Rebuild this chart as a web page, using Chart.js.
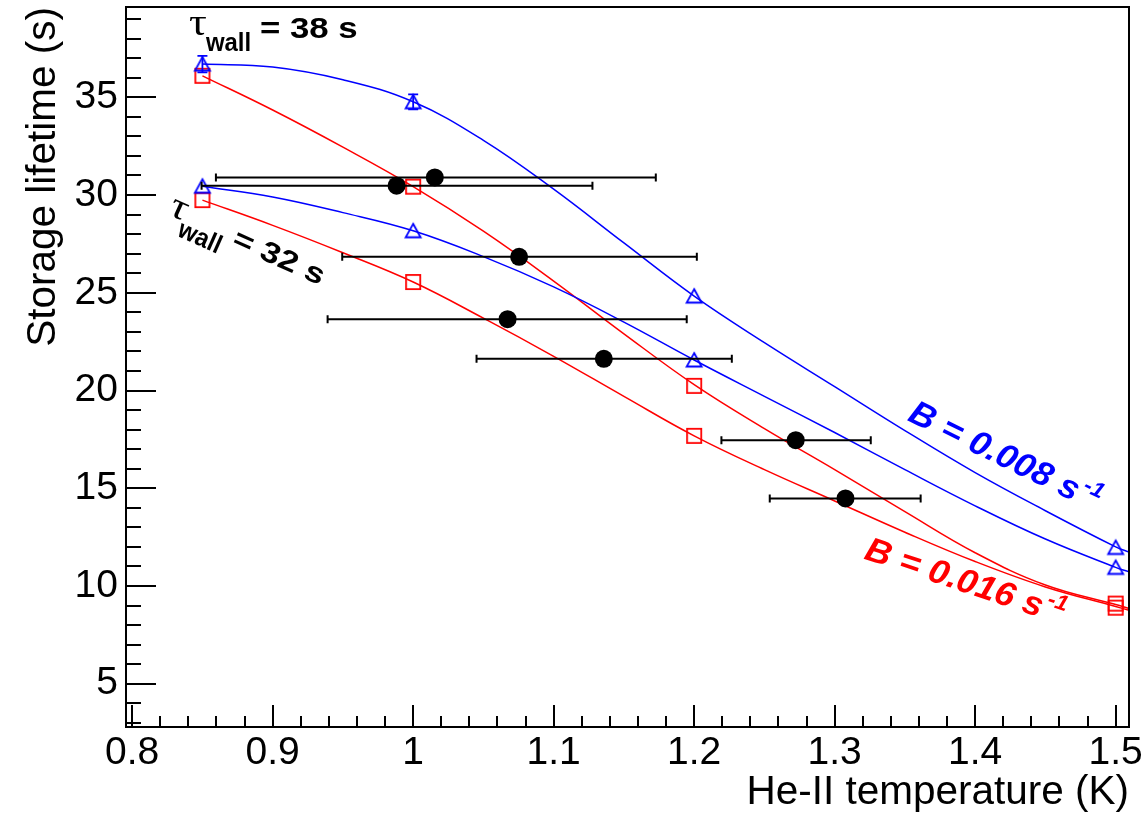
<!DOCTYPE html>
<html>
<head>
<meta charset="utf-8">
<script src="https://cdn.jsdelivr.net/npm/chart.js@4.4.0/dist/chart.umd.min.js"></script>
<style>
html,body{margin:0;padding:0;background:#ffffff;}
#wrap{width:1144px;height:819px;position:relative;}
</style>
</head>
<body>
<div id="wrap"><canvas id="c" width="1144" height="819"></canvas></div>
<script>
// ---------------- data ----------------
// Model curves: storage lifetime vs He-II temperature
const curveTemperature = [0.85, 0.9, 0.95, 1.0, 1.05, 1.1, 1.15, 1.2, 1.25, 1.3, 1.35, 1.4, 1.45, 1.5, 1.5095];
const curveB008Wall38 = [36.7, 36.55, 35.9, 34.77, 32.8, 30.3, 27.55, 24.83, 22.45, 20.2, 17.95, 15.8, 13.85, 12.0, 11.73];
const curveB008Wall32 = [30.45, 29.9, 29.1, 28.17, 26.85, 25.3, 23.5, 21.56, 19.7, 17.85, 15.95, 14.1, 12.4, 10.95, 10.72];
const curveB016Wall38 = [36.1, 34.35, 32.45, 30.43, 28.15, 25.6, 22.9, 20.3, 18.05, 15.95, 13.8, 11.7, 10.05, 9.05, 8.85];
const curveB016Wall32 = [29.74, 28.45, 27.05, 25.55, 23.7, 21.75, 19.7, 17.68, 15.95, 14.35, 12.75, 11.25, 9.95, 8.95, 8.76];

// Simulated points
const simTemperature = [0.85, 1.0, 1.2, 1.5];
const simB008Wall38 = [36.7, 34.77, 24.83, 11.97];
const simB008Wall38Err = [0.42, 0.38, 0, 0];
const simB008Wall32 = [30.45, 28.17, 21.56, 10.95];
const simB016Wall38 = [36.1, 30.43, 20.24, 9.1];
const simB016Wall32 = [29.74, 25.55, 17.68, 8.89];

// Measurements (with temperature ranges)
const measTemperature = [0.9882, 1.0154, 1.0754, 1.0672, 1.1357, 1.2723, 1.3077];
const measLifetime = [30.48, 30.9, 26.84, 23.65, 21.62, 17.46, 14.48];
const measTempLow = [0.8494, 0.8596, 0.9495, 0.9391, 1.0451, 1.2194, 1.2538];
const measTempHigh = [1.1276, 1.1727, 1.2019, 1.1947, 1.2268, 1.3257, 1.3612];

// Axes
const xTickValues = [0.8, 0.9, 1.0, 1.1, 1.2, 1.3, 1.4, 1.5];
const xTickLabels = ['0.8', '0.9', '1', '1.1', '1.2', '1.3', '1.4', '1.5'];
const yTickValues = [5, 10, 15, 20, 25, 30, 35];
const yTickLabels = ['5', '10', '15', '20', '25', '30', '35'];
const xRange = [0.7956, 1.5095];
const yRange = [2.785, 39.62];
const xTitle = 'He-II temperature (K)';
const yTitle = 'Storage lifetime (s)';

// ---------------- helpers ----------------
const BLUE = '#0000ff', RED = '#ff0000', BLACK = '#000000';
function pts(xs, ys) { return xs.map((x, i) => ({x: x, y: ys[i]})); }
function makeTriangle(color) {
  const c = document.createElement('canvas'); c.width = 20; c.height = 20;
  const g = c.getContext('2d'); g.strokeStyle = color; g.lineWidth = 1.8;
  g.beginPath(); g.moveTo(10, 3); g.lineTo(17.5, 16.5); g.lineTo(2.5, 16.5); g.closePath(); g.stroke();
  return c;
}
function makeSquare(color) {
  const c = document.createElement('canvas'); c.width = 20; c.height = 20;
  const g = c.getContext('2d'); g.strokeStyle = color; g.lineWidth = 1.8;
  g.strokeRect(2.9, 2.9, 14.2, 14.2);
  return c;
}
const triBlue = makeTriangle(BLUE);
const sqRed = makeSquare(RED);

function curveDS(label, ys, color) {
  return {label: label, data: pts(curveTemperature, ys), showLine: true, borderColor: color,
    borderWidth: 1.5, pointRadius: 0, fill: false, tension: 0.4, order: 4};
}
function markerDS(label, ys, img, id, order) {
  return {label: label, id: id, data: pts(simTemperature, ys), showLine: false, pointStyle: img,
    pointRadius: 8, borderWidth: 0, order: order};
}

// ---------------- plugins ----------------
const errorBars = {
  id: 'errorBars',
  beforeDatasetDraw(chart, args) {
    const ds = chart.data.datasets[args.index];
    const xs = chart.scales.x, ys = chart.scales.y, ctx = chart.ctx;
    ctx.save();
    if (ds.id === 'meas') {
      ctx.strokeStyle = BLACK; ctx.lineWidth = 2;
      measTemperature.forEach((t, i) => {
        const y = ys.getPixelForValue(measLifetime[i]);
        const x0 = xs.getPixelForValue(measTempLow[i]);
        const x1 = xs.getPixelForValue(measTempHigh[i]);
        ctx.beginPath();
        ctx.moveTo(x0, y); ctx.lineTo(x1, y);
        ctx.moveTo(x0, y - 4); ctx.lineTo(x0, y + 4);
        ctx.moveTo(x1, y - 4); ctx.lineTo(x1, y + 4);
        ctx.stroke();
      });
    }
    if (ds.id === 'b008w38') {
      ctx.strokeStyle = BLUE; ctx.lineWidth = 1.8;
      simTemperature.forEach((t, i) => {
        const e = simB008Wall38Err[i];
        if (!e) return;
        const x = xs.getPixelForValue(t);
        const y0 = ys.getPixelForValue(simB008Wall38[i] - e);
        const y1 = ys.getPixelForValue(simB008Wall38[i] + e);
        ctx.beginPath();
        ctx.moveTo(x, y0); ctx.lineTo(x, y1);
        ctx.moveTo(x - 5, y1); ctx.lineTo(x + 5, y1);
        ctx.moveTo(x - 5, y0); ctx.lineTo(x + 5, y0);
        ctx.stroke();
      });
    }
    ctx.restore();
  }
};

const frameTicks = {
  id: 'frameTicks',
  afterDatasetsDraw(chart) {
    const {ctx, chartArea: a} = chart;
    const xs = chart.scales.x, ys = chart.scales.y;
    ctx.save();
    ctx.strokeStyle = BLACK; ctx.lineWidth = 2;
    ctx.strokeRect(a.left, a.top, a.right - a.left, a.bottom - a.top);
    ctx.beginPath();
    for (let v = Math.ceil(yRange[0]); v <= yRange[1]; v++) {
      const y = Math.round(ys.getPixelForValue(v));
      const len = (v % 5 === 0) ? 30 : 15;
      ctx.moveTo(a.left, y); ctx.lineTo(a.left + len, y);
    }
    for (let k = 0; k <= 35; k++) {
      const v = 0.8 + k * 0.02;
      const x = Math.round(xs.getPixelForValue(v));
      const len = (k % 5 === 0) ? 22 : 11;
      ctx.moveTo(x, a.bottom); ctx.lineTo(x, a.bottom - len);
    }
    ctx.stroke();
    ctx.restore();
  }
};

function txt(ctx, s, x, y, font, color, hs) {
  ctx.save(); ctx.translate(x, y); ctx.scale(hs, 1);
  ctx.font = font; ctx.fillStyle = color; ctx.textBaseline = 'alphabetic'; ctx.textAlign = 'left';
  ctx.fillText(s, 0, 0);
  const w = ctx.measureText(s).width * hs;
  ctx.restore();
  return w;
}

const annotations = {
  id: 'annotations',
  afterDraw(chart) {
    const ctx = chart.ctx, xs = chart.scales.x, ys = chart.scales.y;
    const TAU = '37px "Liberation Serif", serif';
    const SUB = 'bold 26px "Liberation Sans", Arial, sans-serif';
    const BIG = 'bold 29px "Liberation Sans", Arial, sans-serif';
    const BI = 'italic bold 34px "Liberation Sans", Arial, sans-serif';
    const BISUP = 'italic bold 22px "Liberation Sans", Arial, sans-serif';
    function tauLabel(xv, yv, deg, value) {
      ctx.save();
      ctx.translate(xs.getPixelForValue(xv), ys.getPixelForValue(yv));
      ctx.rotate(deg * Math.PI / 180);
      txt(ctx, '\u03C4', 0, 0, TAU, BLACK, 1.2);
      txt(ctx, 'wall', 17, 16, SUB, BLACK, 0.92);
      txt(ctx, '= ' + value + ' s', 71, 3, BIG, BLACK, 1.2);
      ctx.restore();
    }
    function bLabel(xv, yv, deg, value, color) {
      ctx.save();
      ctx.translate(xs.getPixelForValue(xv), ys.getPixelForValue(yv));
      ctx.rotate(deg * Math.PI / 180);
      const w = txt(ctx, 'B = ' + value + ' s', 0, 0, BI, color, 1.05);
      txt(ctx, '-1', w + 3, -14, BISUP, color, 1.05);
      ctx.restore();
    }
    tauLabel(0.8404, 38.19, 0, '38');
    tauLabel(0.8248, 29.03, 24, '32');
    bLabel(1.3511, 18.49, 26, '0.008', BLUE);
    bLabel(1.3202, 11.41, 18.5, '0.016', RED);
  }
};

// ---------------- chart ----------------
const TICKFONT = {family: '"Liberation Sans", Arial, sans-serif', size: 39};
const TITLEFONT = {family: '"Liberation Sans", Arial, sans-serif', size: 40.5};

new Chart(document.getElementById('c'), {
  type: 'scatter',
  data: {
    datasets: [
      {label: 'Measured', id: 'meas', data: pts(measTemperature, measLifetime), pointStyle: 'circle',
        pointRadius: 9, backgroundColor: BLACK, borderWidth: 0, showLine: false, order: 0},
      markerDS('Sim B=0.008, wall 38', simB008Wall38, triBlue, 'b008w38', 2),
      markerDS('Sim B=0.008, wall 32', simB008Wall32, triBlue, 'b008w32', 2),
      markerDS('Sim B=0.016, wall 38', simB016Wall38, sqRed, 'b016w38', 3),
      markerDS('Sim B=0.016, wall 32', simB016Wall32, sqRed, 'b016w32', 3),
      curveDS('B=0.008, wall 38', curveB008Wall38, BLUE),
      curveDS('B=0.008, wall 32', curveB008Wall32, BLUE),
      curveDS('B=0.016, wall 38', curveB016Wall38, RED),
      curveDS('B=0.016, wall 32', curveB016Wall32, RED)
    ]
  },
  options: {
    responsive: false,
    animation: false,
    devicePixelRatio: 1,
    layout: {padding: {left: 0, top: 7, right: 15, bottom: 0}, autoPadding: false},
    plugins: {legend: {display: false}, tooltip: {enabled: false}},
    scales: {
      x: {
        type: 'linear', min: xRange[0], max: xRange[1],
        afterBuildTicks: s => { s.ticks = xTickValues.map(v => ({value: v})); },
        afterFit: s => { s.height = 92; s.paddingLeft = 0; s.paddingRight = 0; s.paddingTop = 0; s.paddingBottom = 0; },
        grid: {display: false, drawTicks: false},
        border: {display: false},
        ticks: {color: BLACK, font: TICKFONT, padding: 3, maxRotation: 0, minRotation: 0, autoSkip: false,
          callback: (v, i) => xTickLabels[i]},
        title: {display: true, text: xTitle, align: 'end', color: BLACK, font: TITLEFONT,
          padding: {top: 0, bottom: 2}}
      },
      y: {
        type: 'linear', min: yRange[0], max: yRange[1],
        afterBuildTicks: s => { s.ticks = yTickValues.map(v => ({value: v})); },
        afterFit: s => { s.width = 126; s.paddingLeft = 0; s.paddingRight = 0; s.paddingTop = 0; s.paddingBottom = 0; },
        grid: {display: false, drawTicks: false},
        border: {display: false},
        ticks: {color: BLACK, font: TICKFONT, padding: 8, autoSkip: false,
          callback: (v, i) => yTickLabels[i]},
        title: {display: true, text: yTitle, align: 'end', color: BLACK, font: TITLEFONT,
          padding: {top: 20, bottom: 0}}
      }
    }
  },
  plugins: [errorBars, frameTicks, annotations]
});
</script>
</body>
</html>
